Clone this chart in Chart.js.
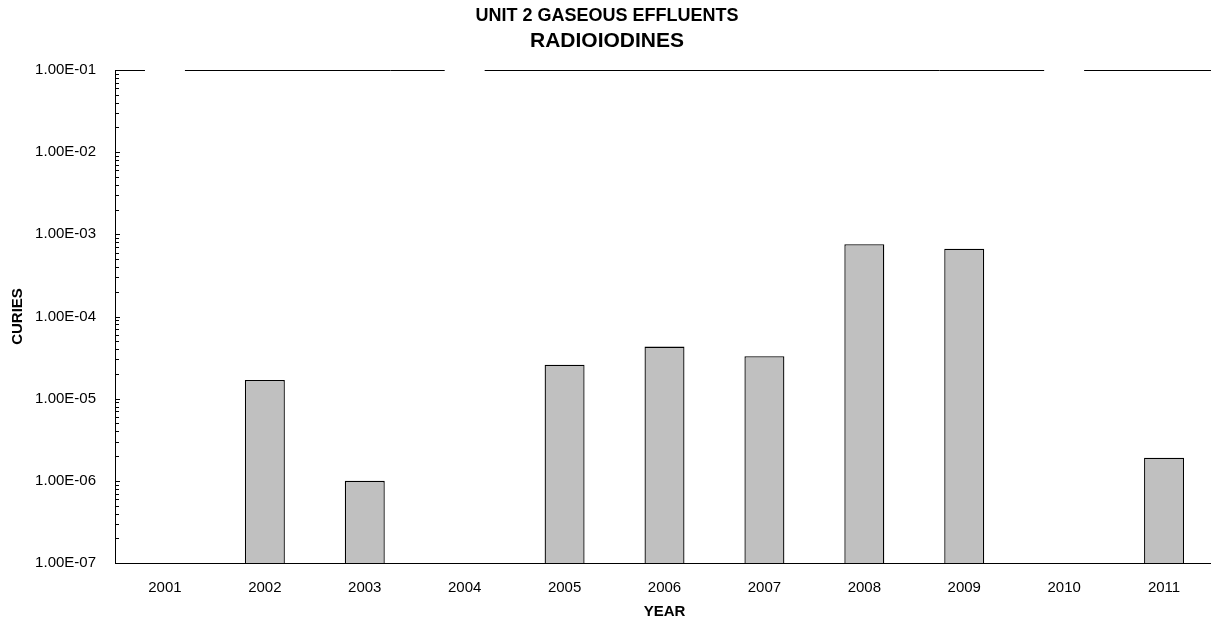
<!DOCTYPE html>
<html>
<head>
<meta charset="utf-8">
<script src="https://cdn.jsdelivr.net/npm/chart.js@4.4.1/dist/chart.umd.min.js"></script>
<style>
  html, body { margin: 0; padding: 0; background: #fff; overflow: hidden; }
  #wrap { width: 1211px; height: 624px; overflow: hidden; }
</style>
</head>
<body>
<div id="wrap"><canvas id="chart" width="1214" height="624"></canvas></div>
<script>
const years = ['2001', '2002', '2003', '2004', '2005', '2006', '2007', '2008', '2009', '2010', '2011'];
const curies = [null, 1.69e-5, 1.0e-6, null, 2.59e-5, 4.30e-5, 3.28e-5, 7.57e-4, 6.68e-4, null, 1.91e-6];
// years with no result: the original shows a white column up to the top of the axis
const blankColumns = [1e-1, null, null, 1e-1, null, null, null, null, null, 1e-1, null];
const decades = [1e-7, 1e-6, 1e-5, 1e-4, 1e-3, 1e-2, 1e-1];

const FONT = "'Liberation Sans', Arial, sans-serif";

// 1.00E-05 style labels
const sci = v => {
    const [m, e] = v.toExponential(2).split('e');
    const n = parseInt(e, 10);
    return m.toUpperCase() + 'E' + (n < 0 ? '-' : '+') + String(Math.abs(n)).padStart(2, '0');
};

// small tick marks pointing into the plot, on the value axis
const inwardTicks = {
    id: 'inwardTicks',
    afterDraw(chart) {
        const y = chart.scales.y;
        const ctx = chart.ctx;
        const x0 = Math.round(chart.chartArea.left);
        ctx.save();
        ctx.strokeStyle = '#000';
        ctx.lineWidth = 1;
        y.ticks.forEach(t => {
            const py = Math.round(y.getPixelForValue(t.value)) + 0.5;
            ctx.beginPath();
            ctx.moveTo(x0, py);
            ctx.lineTo(x0 + (t.major ? 5 : 4), py);
            ctx.stroke();
        });
        ctx.restore();
    }
};

new Chart(document.getElementById('chart'), {
    type: 'bar',
    data: {
        labels: years,
        datasets: [{
            label: 'Curies',
            data: curies,
            backgroundColor: '#c0c0c0',
            borderColor: '#000',
            borderWidth: 1.3
        }, {
            label: 'blank',
            data: blankColumns,
            backgroundColor: '#fff',
            borderWidth: 0
        }]
    },
    options: {
        responsive: false,
        devicePixelRatio: 1,
        animation: false,
        layout: { padding: 0 },
        datasets: {
            bar: { barPercentage: 0.4, categoryPercentage: 1.0, grouped: false }
        },
        plugins: {
            legend: { display: false },
            tooltip: { enabled: false },
            title: {
                display: true,
                text: 'UNIT 2 GASEOUS EFFLUENTS',
                color: '#000',
                font: { family: FONT, size: 18, weight: 'bold', lineHeight: 1 },
                padding: { top: 7, bottom: 0 }
            },
            subtitle: {
                display: true,
                text: 'RADIOIODINES',
                color: '#000',
                font: { family: FONT, size: 21, weight: 'bold', lineHeight: 1 },
                padding: { top: 6, bottom: 18 }
            }
        },
        scales: {
            x: {
                grid: { display: false },
                border: { display: true, color: '#000', width: 1 },
                ticks: { color: '#000', font: { family: FONT, size: 15 }, padding: 8, maxRotation: 0 },
                title: {
                    display: true,
                    text: 'YEAR',
                    color: '#000',
                    font: { family: FONT, size: 15, weight: 'bold', lineHeight: 1 },
                    padding: { top: 0, bottom: 5 }
                },
                afterFit: axis => { axis.height = 61; }
            },
            y: {
                type: 'logarithmic',
                min: 1e-7,
                max: 1e-1,
                afterBuildTicks: scale => {
                    const ticks = [];
                    for (let i = 0; i < decades.length - 1; i++) {
                        for (let m = 1; m <= 9; m++) {
                            ticks.push({ value: m * decades[i], major: m === 1 });
                        }
                    }
                    ticks.push({ value: decades[decades.length - 1], major: true });
                    scale.ticks = ticks;
                },
                grid: {
                    drawTicks: false,
                    color: ctx => ctx.index === ctx.scale.ticks.length - 1 ? '#000' : 'rgba(0,0,0,0)',
                    lineWidth: 1
                },
                border: { display: true, color: '#000', width: 1 },
                ticks: {
                    autoSkip: false,
                    color: '#000',
                    padding: 19,
                    font: { family: FONT, size: 15 },
                    callback: (value, index, ticks) => ticks[index].major ? sci(value) : ''
                },
                title: {
                    display: true,
                    text: 'CURIES',
                    color: '#000',
                    font: { family: FONT, size: 15, weight: 'bold', lineHeight: 1 },
                    padding: { top: 10, bottom: 0 }
                },
                afterFit: axis => { axis.width = 115; }
            }
        }
    },
    plugins: [inwardTicks]
});
</script>
</body>
</html>
